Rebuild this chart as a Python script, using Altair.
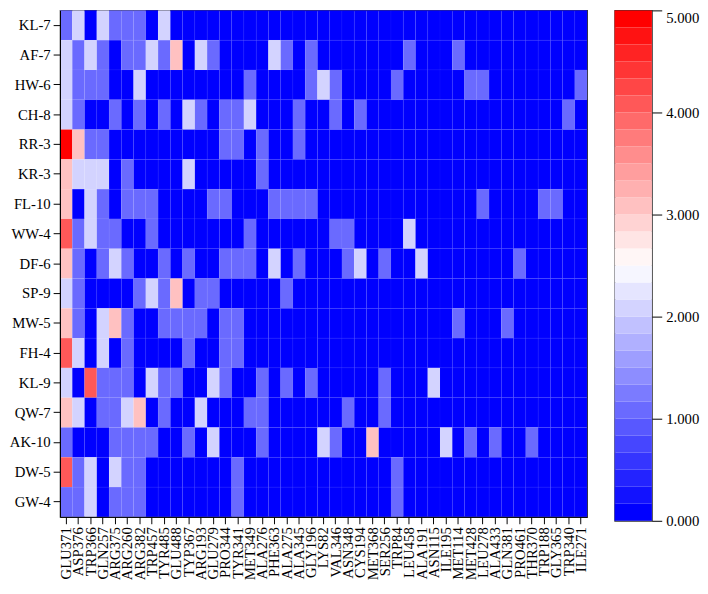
import altair as alt
import pandas as pd

residues = ["GLU371", "ASP376", "TRP366", "GLN257", "ARG375", "ARG260", "ARG382", "TRP457",
            "TYR485", "GLU488", "TYP367", "ARG193", "GLU279", "PRO344", "TYR341", "MET349",
            "ALA276", "PHE363", "ALA275", "ALA345", "GLY196", "LYS82", "VAL346", "ASN348",
            "CYS194", "MET368", "SER256", "TRP84", "LEU458", "ALA191", "ASN115", "ILE195",
            "MET114", "MET428", "LEU278", "ALA433", "GLN381", "PRO461", "THR370", "TRP188",
            "GLY365", "TRP340", "ILE271"]

complexes = ["KL-7", "AF-7", "HW-6", "CH-8", "RR-3", "KR-3", "FL-10", "WW-4", "DF-6",
             "SP-9", "MW-5", "FH-4", "KL-9", "QW-7", "AK-10", "DW-5", "GW-4"]

KL_7 = [1, 2, 0, 2, 1, 1, 1, 0, 2, 0, 0, 0, 0, 0, 0, 0, 0, 0, 0, 0, 0, 0, 0, 0, 0, 0, 0, 0, 0, 0, 0, 0, 0, 0, 0, 0, 0, 0, 0, 0, 0, 0, 0]
AF_7 = [2, 1, 2, 1, 0, 1, 1, 2, 1, 3, 0, 2, 1, 0, 0, 0, 0, 2, 1, 0, 1, 0, 0, 0, 0, 0, 0, 0, 1, 0, 0, 0, 1, 0, 0, 0, 0, 0, 0, 0, 0, 0, 0]
HW_6 = [2, 1, 1, 1, 0, 0, 2, 0, 0, 0, 0, 0, 0, 0, 0, 1, 0, 0, 0, 0, 1, 2, 1, 0, 0, 0, 0, 1, 0, 0, 0, 0, 0, 1, 1, 0, 0, 0, 0, 0, 0, 0, 1]
CH_8 = [2, 1, 0, 0, 1, 0, 1, 0, 1, 0, 2, 1, 0, 1, 1, 2, 0, 0, 0, 1, 0, 0, 1, 0, 1, 0, 0, 0, 0, 0, 0, 0, 0, 0, 0, 0, 0, 0, 0, 0, 0, 1, 0]
RR_3 = [5, 3, 1, 1, 0, 0, 0, 0, 0, 0, 0, 0, 0, 1, 1, 0, 1, 0, 0, 1, 0, 0, 0, 0, 0, 0, 0, 0, 0, 0, 0, 0, 0, 0, 0, 0, 0, 0, 0, 0, 0, 0, 0]
KR_3 = [3, 2, 2, 2, 0, 1, 0, 0, 0, 0, 2, 0, 0, 0, 0, 0, 1, 0, 0, 0, 0, 0, 0, 0, 0, 0, 0, 0, 0, 0, 0, 0, 0, 0, 0, 0, 0, 0, 0, 0, 0, 0, 0]
FL_10 = [3, 0, 2, 1, 0, 1, 1, 1, 0, 0, 0, 0, 1, 1, 0, 0, 0, 1, 1, 1, 1, 0, 0, 0, 0, 0, 0, 0, 0, 0, 0, 0, 0, 0, 1, 0, 0, 0, 0, 1, 1, 0, 0]
WW_4 = [4.1, 1, 2, 1, 1, 0, 0, 1, 0, 0, 0, 0, 0, 0, 0, 1, 0, 0, 0, 0, 0, 0, 1, 1, 0, 0, 0, 0, 2, 0, 0, 0, 0, 0, 0, 0, 0, 0, 0, 0, 0, 0, 0]
DF_6 = [3, 1, 0, 1, 2, 1, 0, 0, 1, 0, 1, 0, 0, 1, 1, 1, 0, 2, 0, 1, 0, 0, 0, 1, 2, 0, 1, 0, 0, 2, 0, 0, 0, 0, 0, 0, 0, 1, 0, 0, 0, 0, 0]
SP_9 = [2, 1, 0, 0, 0, 0, 1, 2, 1, 3, 0, 1, 1, 0, 0, 0, 0, 0, 1, 0, 0, 0, 0, 0, 0, 0, 0, 0, 0, 0, 0, 0, 0, 0, 0, 0, 0, 0, 0, 0, 0, 0, 0]
MW_5 = [3, 1, 0, 2, 3, 1, 0, 0, 1, 1, 1, 1, 0, 1, 1, 0, 0, 0, 0, 0, 0, 0, 0, 0, 0, 0, 0, 0, 0, 0, 0, 0, 1, 0, 0, 0, 1, 0, 0, 0, 0, 0, 0]
FH_4 = [4.1, 2, 0, 2, 0, 1, 0, 0, 0, 0, 1, 0, 0, 1, 1, 0, 0, 0, 0, 0, 0, 0, 0, 0, 0, 0, 0, 0, 0, 0, 0, 0, 0, 0, 0, 0, 0, 0, 0, 0, 0, 0, 0]
KL_9 = [2, 0, 4.1, 1, 1, 1, 0, 2, 1, 1, 0, 0, 2, 1, 0, 0, 1, 0, 1, 0, 1, 0, 0, 0, 0, 0, 1, 0, 0, 0, 2, 0, 0, 0, 0, 0, 0, 0, 0, 0, 0, 0, 0]
QW_7 = [3, 2, 0, 1, 1, 2, 3, 0, 1, 0, 0, 2, 0, 0, 0, 1, 1, 0, 0, 0, 0, 0, 0, 1, 0, 0, 1, 0, 0, 0, 0, 0, 0, 0, 0, 0, 0, 0, 0, 0, 0, 0, 0]
AK_10 = [1, 0, 0, 0, 1, 1, 1, 1, 0, 0, 1, 0, 2, 0, 0, 0, 1, 0, 0, 0, 0, 2, 1, 0, 0, 3, 0, 0, 0, 0, 0, 2, 0, 1, 0, 1, 0, 0, 1, 0, 0, 0, 0]
DW_5 = [4.1, 1, 2, 0, 2, 1, 1, 0, 0, 0, 0, 0, 0, 0, 1, 0, 0, 0, 0, 0, 0, 0, 0, 0, 0, 0, 0, 1, 0, 0, 0, 0, 0, 0, 0, 0, 0, 0, 0, 0, 0, 0, 0]
GW_4 = [1, 1, 2, 0, 1, 1, 1, 0, 0, 0, 0, 0, 0, 0, 1, 0, 0, 0, 0, 0, 0, 0, 0, 0, 0, 0, 0, 1, 0, 0, 0, 0, 0, 0, 0, 0, 0, 0, 0, 0, 0, 0, 0]

row_values = [KL_7, AF_7, HW_6, CH_8, RR_3, KR_3, FL_10, WW_4, DF_6,
              SP_9, MW_5, FH_4, KL_9, QW_7, AK_10, DW_5, GW_4]

legend_ticks = [0, 1, 2, 3, 4, 5]

# ---- build tables ----
records = []
for cname, vals in zip(complexes, row_values):
    for res, v in zip(residues, vals):
        records.append({"complex": cname, "residue": res, "value": v})
df = pd.DataFrame(records)

# banded blue-white-red palette (30 steps)
N_BANDS = 30
VMAX = 5.0


def band_color(i):
    v = i * VMAX / (N_BANDS - 1)
    if v <= VMAX / 2:
        t = v / (VMAX / 2)
        r = g = round(255 * t)
        b = 255
    else:
        t = (v - VMAX / 2) / (VMAX / 2)
        r = 255
        g = b = round(255 * (1 - t))
    return "#{:02x}{:02x}{:02x}".format(r, g, b)


palette = [band_color(i) for i in range(N_BANDS)]
band_df = pd.DataFrame({
    "lo": [i * VMAX / N_BANDS for i in range(N_BANDS)],
    "hi": [(i + 1) * VMAX / N_BANDS for i in range(N_BANDS)],
    "mid": [(i + 0.5) * VMAX / N_BANDS for i in range(N_BANDS)],
})

color_scale = alt.Scale(type="quantize", domain=[0, VMAX], range=palette)
FONT = "Liberation Serif"

heat = alt.Chart(df).mark_rect(stroke="#ffffff", strokeWidth=0.5, strokeOpacity=0.07).encode(
    x=alt.X("residue:N", sort=residues,
            scale=alt.Scale(paddingInner=0, paddingOuter=0),
            axis=alt.Axis(title=None, labelAngle=270, labelAlign="right", labelBaseline="middle",
                          tickSize=7, labelPadding=3, domainColor="#000", tickColor="#000")),
    y=alt.Y("complex:N", sort=complexes,
            scale=alt.Scale(paddingInner=0, paddingOuter=0),
            axis=alt.Axis(title=None, tickSize=7, labelPadding=3, domainColor="#000", tickColor="#000")),
    color=alt.Color("value:Q", scale=color_scale, legend=None),
).properties(width=537, height=516)

legend = alt.Chart(band_df).mark_rect().encode(
    y=alt.Y("lo:Q", scale=alt.Scale(domain=[0, VMAX], nice=False),
            axis=alt.Axis(orient="right", values=legend_ticks, format=".3f", title=None,
                          grid=False, domain=False, tickSize=10, labelPadding=4, tickColor="#000",
                          labelBaseline={"condition": {"test": "datum.value >= 5", "value": "top"},
                                         "value": "middle"})),
    y2="hi:Q",
    x=alt.value(0),
    x2=alt.value(38),
    color=alt.Color("mid:Q", scale=color_scale, legend=None),
).properties(width=38, height=520)

chart = alt.hconcat(heat, legend, spacing=25).properties(
    padding={"top": -5, "left": 0, "right": 0, "bottom": 0}
).configure_view(
    stroke="#333333", strokeWidth=1.2
).configure_axis(
    labelFont=FONT, labelFontSize=15, labelColor="#000", grid=False
)

chart.save("out.html", embed_options={"renderer": "svg", "actions": False})
